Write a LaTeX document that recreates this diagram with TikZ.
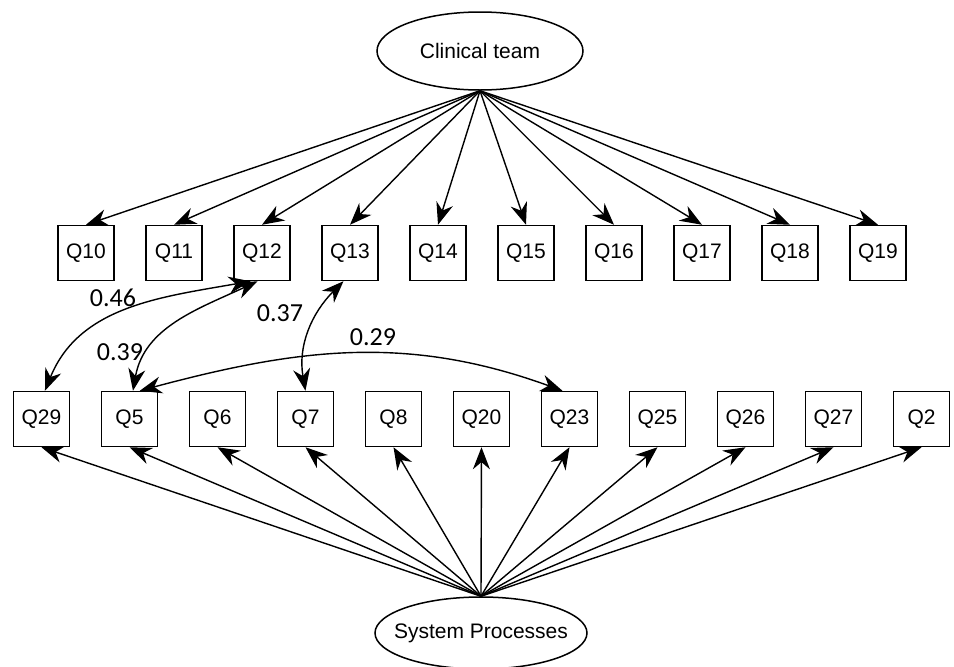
\documentclass[tikz,border=0pt]{standalone}
\usepackage{fontspec}
\setmainfont{Liberation Sans}
\newfontfamily\numfont{Carlito}
\usetikzlibrary{arrows.meta, shapes.geometric}

\begin{document}
\begin{tikzpicture}[x=1pt, y=1pt, >={Stealth[length=22pt, width=17pt]},
    item/.style={draw, line width=1.5pt, minimum width=56pt, minimum height=55pt, inner sep=0pt, font=\fontsize{21}{24}\selectfont},
    factor/.style={draw, ellipse, line width=1.5pt, inner sep=0pt, font=\fontsize{21}{24}\selectfont},
    load/.style={->, line width=1.4pt},
    cov/.style={<->, line width=1.4pt},
    coef/.style={font=\numfont\fontsize{26}{30}\selectfont}]

    \useasboundingbox (0,0) rectangle (954,-667);

    % --- latent factors ---
    \node[factor, minimum width=206pt, minimum height=78pt] (ct) at (480,-51) {Clinical team};
    \node[factor, inner xsep=-16pt, minimum width=212pt, minimum height=72pt] (sp) at (481,-633) {System Processes};

    % --- indicators, top row ---
    \foreach \q [count=\i from 0] in {10,11,12,13,14,15,16,17,18,19}
        \node[item] (q\q) at (86+88*\i,-253) {Q\q};

    % --- indicators, bottom row ---
    \foreach \q [count=\i from 0] in {29,5,6,7,8,20,23,25,26,27,2}
        \node[item] (q\q) at (41.5+88*\i,-419) {Q\q};

    % --- loadings ---
    \foreach \q in {10,11,12,13,14,15,16,17,18,19}
        \draw[load] (ct.south) -- (q\q.north);
    \foreach \q in {29,5,6,7,8,20,23,25,26,27,2}
        \draw[load] (sp.north) -- (q\q.south);

    % --- error covariances ---
    \draw[cov] (q12.-112) to[out=190, in=68] (q29.83);
    \draw[cov] (q12.-99) to[out=205, in=80] (q5.83);
    \draw[cov] (q13.-103) to[out=225, in=100] (q7.north);
    \draw[cov] (q5.70) to[out=15, in=160] (q23.104);

    \node[coef] (c46) at (113,-298) {0.46};
    \node[coef] (c39) at (120,-352) {0.39};
    \node[coef] (c37) at (280,-313) {0.37};
    \node[coef] (c29) at (373,-337) {0.29};

\end{tikzpicture}
\end{document}
